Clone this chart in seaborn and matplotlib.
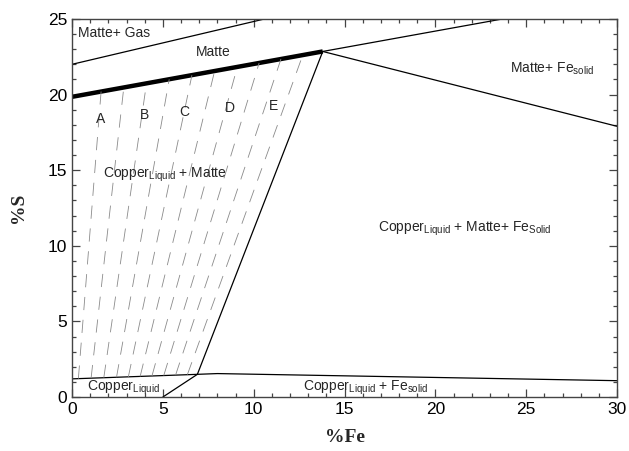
import numpy as np
import pandas as pd
import matplotlib
matplotlib.use("Agg")
import matplotlib.pyplot as plt
import seaborn as sns
from matplotlib.ticker import MultipleLocator

# ---- data ----
gas_x = [0.0, 10.6];          gas_y = [22.0, 25.0]
matte_x = [0.0, 13.8];        matte_y = [19.85, 22.85]
upper_x = [13.8, 23.7];       upper_y = [22.85, 25.0]
fe_x = [13.8, 30.0];          fe_y = [22.85, 17.9]
steep_x = [13.8, 6.9];        steep_y = [22.85, 1.5]
cu_left_x = [0.0, 6.9];       cu_left_y = [1.2, 1.5]
cu_right_x = [6.9, 8.0, 30.0]; cu_right_y = [1.5, 1.55, 1.08]
cu_low_x = [6.9, 5.0];        cu_low_y = [1.5, 0.0]

tie_x0 = [0.35, 1.05, 1.75, 2.45, 3.1, 3.75, 4.4, 5.05, 5.7, 6.35]
tie_y0 = [1.215, 1.25, 1.28, 1.31, 1.33, 1.36, 1.39, 1.42, 1.45, 1.48]
tie_x1 = [1.6, 2.85, 4.1, 5.35, 6.6, 7.85, 9.1, 10.3, 11.5, 12.7]
tie_y1 = [20.2, 20.47, 20.74, 21.01, 21.28, 21.56, 21.83, 22.09, 22.35, 22.61]

letters = ["A", "B", "C", "D", "E"]
letter_x = [1.6, 4.0, 6.2, 8.7, 11.1]
letter_y = [18.4, 18.65, 18.85, 19.1, 19.25]

x_ticks = [0, 5, 10, 15, 20, 25, 30]
y_ticks = [0, 5, 10, 15, 20, 25]

# ---- style ----
sns.set_theme(style="ticks")
plt.rcParams["font.family"] = ["Liberation Sans", "DejaVu Sans"]
plt.rcParams["mathtext.fontset"] = "custom"
plt.rcParams["mathtext.rm"] = "Liberation Sans"
plt.rcParams["lines.scale_dashes"] = False

fig = plt.figure(figsize=(6.29, 4.51), dpi=100)
ax = fig.add_axes([0.1145, 0.1197, 0.8665, 0.8383])

def seg(xs, ys, **kw):
    df = pd.DataFrame({"x": xs, "y": ys})
    sns.lineplot(data=df, x="x", y="y", ax=ax, sort=False, estimator=None, **kw)

for xs, ys in [(gas_x, gas_y), (upper_x, upper_y), (fe_x, fe_y), (steep_x, steep_y),
               (cu_left_x, cu_left_y), (cu_right_x, cu_right_y), (cu_low_x, cu_low_y)]:
    seg(xs, ys, color="black", linewidth=0.9)

seg(matte_x, matte_y, color="black", linewidth=3.2, solid_capstyle="butt")

for x0, y0, x1, y1 in zip(tie_x0, tie_y0, tie_x1, tie_y1):
    seg([x0, x1], [y0, y1], color="#8a8a8a", linewidth=0.6, dashes=(9.5, 7.0))

# region labels
fs = 10
ax.text(0.33, 24.1, "Matte+ Gas", fontsize=fs, va="center")
ax.text(7.76, 22.8, "Matte", fontsize=fs, va="center", ha="center")
ax.text(24.1, 21.7, r"Matte+ Fe$_{\mathregular{solid}}$", fontsize=fs, va="center")
ax.text(1.69, 14.7, r"Copper$_{\mathregular{Liquid}}$ + Matte", fontsize=fs, va="center")
ax.text(16.84, 11.15, r"Copper$_{\mathregular{Liquid}}$ + Matte+ Fe$_{\mathregular{Solid}}$",
        fontsize=fs, va="center")
ax.text(0.8, 0.6, r"Copper$_{\mathregular{Liquid}}$", fontsize=fs, va="center")
ax.text(12.7, 0.6, r"Copper$_{\mathregular{Liquid}}$ + Fe$_{\mathregular{solid}}$",
        fontsize=fs, va="center")
for t, lx, ly in zip(letters, letter_x, letter_y):
    ax.text(lx, ly, t, fontsize=fs, ha="center", va="center")

ax.set_xlim(0, 30)
ax.set_ylim(0, 25)
ax.set_xticks(x_ticks)
ax.set_yticks(y_ticks)
ax.xaxis.set_minor_locator(MultipleLocator(1))
ax.yaxis.set_minor_locator(MultipleLocator(1))
ax.tick_params(which="both", direction="in", top=True, right=True, colors="#444444",
               labelcolor="black", labelsize=12.5, width=0.9)
ax.tick_params(which="major", length=6)
ax.tick_params(which="minor", length=3)
for s in ax.spines.values():
    s.set_color("#444444")
    s.set_linewidth(1.0)

ax.set_xlabel("%Fe", fontsize=14, fontweight="bold", family="Liberation Serif", labelpad=9)
ax.set_ylabel("%S", fontsize=14, fontweight="bold", family="Liberation Serif", labelpad=15)

fig.savefig("out.png", dpi=100)
